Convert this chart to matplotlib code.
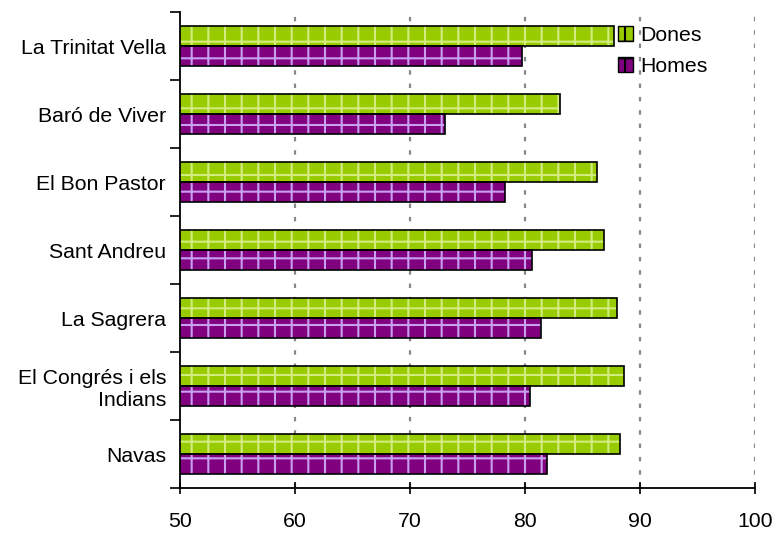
import matplotlib
matplotlib.use("Agg")
import matplotlib.pyplot as plt
from matplotlib.patches import Patch
import numpy as np

# life expectancy by neighbourhood
barris = ["La Trinitat Vella", "Baró de Viver", "El Bon Pastor", "Sant Andreu",
          "La Sagrera", "El Congrés i els\nIndians", "Navas"]
dones = [87.7, 83.0, 86.3, 86.9, 88.0, 88.6, 88.3]
homes = [79.7, 73.0, 78.3, 80.6, 81.4, 80.4, 81.9]
xticks = [50, 60, 70, 80, 90, 100]

green = "#99cc00"
purple = "#800080"

plt.rcParams["font.family"] = ["Liberation Sans", "DejaVu Sans"]
plt.rcParams["hatch.linewidth"] = 1.5

fig = plt.figure(figsize=(7.74, 5.43), dpi=100)
ax = fig.add_axes([180 / 774, 1 - 488 / 543, 575 / 774, 476 / 543])

y = np.arange(len(barris))
h = 0.29
fs = 15.3

# fills with hatch pattern, then black outlines on top
ax.barh(y - h / 2, dones, height=h, color=green, edgecolor="#d2ec80",
        linewidth=0, hatch="+", zorder=2)
ax.barh(y + h / 2, homes, height=h, color=purple, edgecolor="#c9a0f0",
        linewidth=0, hatch="+", zorder=2)
ax.barh(y - h / 2, dones, height=h, fill=False, edgecolor="black",
        linewidth=1.2, zorder=3)
ax.barh(y + h / 2, homes, height=h, fill=False, edgecolor="black",
        linewidth=1.2, zorder=3)

ax.set_xlim(50, 100)
ax.set_ylim(len(barris) - 0.5, -0.5)
ax.set_xticks(xticks)
ax.set_yticks(y)
ax.set_yticklabels(barris, fontsize=fs)
ax.set_yticks(np.arange(len(barris) + 1) - 0.5, minor=True)
ax.tick_params(axis="y", which="major", length=0, pad=10)
ax.tick_params(axis="y", which="minor", length=7, width=1.2, direction="out")
ax.tick_params(axis="x", labelsize=fs, length=9, width=1.2,
               direction="inout", pad=13)

for v in xticks[1:]:
    ax.axvline(v, color="#888888", linestyle=(0, (2, 4)), linewidth=1.6, zorder=1)

for s in ["top", "right"]:
    ax.spines[s].set_visible(False)
for s in ["left", "bottom"]:
    ax.spines[s].set_linewidth(1.3)

handles = [Patch(facecolor=green, edgecolor="black", hatch="+", label="Dones"),
           Patch(facecolor=purple, edgecolor="black", hatch="+", label="Homes")]
ax.legend(handles=handles, loc="upper left", bbox_to_anchor=(618 / 774, 1 - 26 / 543),
          bbox_transform=fig.transFigure, frameon=False, fontsize=fs,
          handlelength=0.7, handleheight=0.7, handletextpad=0.35,
          labelspacing=0.55, borderpad=0, borderaxespad=0)

fig.savefig("out.png", dpi=100)
